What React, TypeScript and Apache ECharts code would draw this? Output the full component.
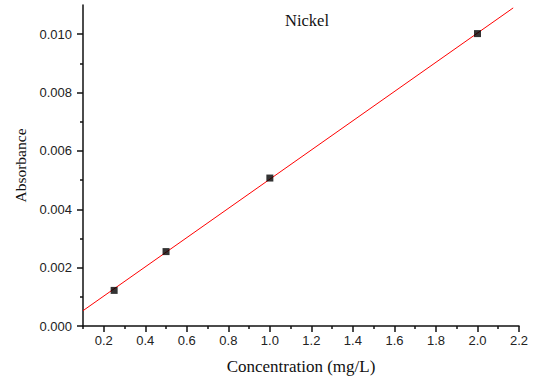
import React, { useEffect, useRef } from "react";
import * as echarts from "echarts";

const concentrations = [0.25, 0.5, 1.0, 2.0];
const absorbances = [0.00122, 0.00255, 0.00507, 0.01002];
const fitX = [0.1, 2.172];
const fitY = [0.000525, 0.01090];
const xMajorTicks = [0.2, 0.4, 0.6, 0.8, 1.0, 1.2, 1.4, 1.6, 1.8, 2.0, 2.2];
const xMinorTicks = [0.1, 0.3, 0.5, 0.7, 0.9, 1.1, 1.3, 1.5, 1.7, 1.9, 2.1];
const yMajorTicks = [0, 0.002, 0.004, 0.006, 0.008, 0.01];
const yMinorTicks = [0.001, 0.003, 0.005, 0.007, 0.009];

export default function App() {
  const ref = useRef<HTMLDivElement>(null);
  useEffect(() => {
    if (!ref.current) return;
    const chart = echarts.init(ref.current, null, { renderer: "svg" });
    const lineColor = "#111";
    const labelStyle = {
      fontFamily: "Liberation Sans",
      fontSize: 13,
      color: "#222",
    };
    const common = { min: 0.1, max: 2.2, type: "value" as const };
    chart.setOption({
      animation: false,
      backgroundColor: "#fff",
      grid: { left: 83, right: 17, top: 5, bottom: 57 },
      xAxis: [
        {
          ...common,
          position: "bottom",
          axisLine: { show: true, lineStyle: { color: lineColor, width: 1.5 } },
          axisTick: { show: true, inside: false, length: 6, customValues: xMajorTicks, lineStyle: { color: lineColor, width: 1.5 } },
          axisLabel: { ...labelStyle, margin: 8, customValues: xMajorTicks, formatter: (v: number) => v.toFixed(1) },
          splitLine: { show: false },
          name: "Concentration (mg/L)",
          nameLocation: "middle",
          nameGap: 32,
          nameTextStyle: { fontFamily: "Liberation Serif", fontSize: 17, color: "#111" },
        },
        {
          ...common,
          position: "bottom",
          axisLine: { show: false },
          axisTick: { show: true, inside: false, length: 3, customValues: xMinorTicks, lineStyle: { color: lineColor, width: 1.5 } },
          axisLabel: { show: false },
          splitLine: { show: false },
        },
      ],
      yAxis: [
        {
          type: "value",
          min: 0,
          max: 0.011,
          axisLine: { show: true, lineStyle: { color: lineColor, width: 1.5 } },
          axisTick: { show: true, inside: false, length: 6, customValues: yMajorTicks, lineStyle: { color: lineColor, width: 1.5 } },
          axisLabel: { ...labelStyle, margin: 11, customValues: yMajorTicks, formatter: (v: number) => v.toFixed(3) },
          splitLine: { show: false },
          name: "Absorbance",
          nameLocation: "middle",
          nameGap: 54,
          nameTextStyle: { fontFamily: "Liberation Serif", fontSize: 15.5, color: "#111" },
        },
        {
          type: "value",
          min: 0,
          max: 0.011,
          position: "left",
          axisLine: { show: false },
          axisTick: { show: true, inside: false, length: 3, customValues: yMinorTicks, lineStyle: { color: lineColor, width: 1.5 } },
          axisLabel: { show: false },
          splitLine: { show: false },
        },
      ],
      graphic: [
        {
          type: "text",
          x: 307,
          y: 20,
          style: {
            text: "Nickel",
            fontFamily: "Liberation Serif",
            fontSize: 16.5,
            fill: "#111",
            align: "center",
            verticalAlign: "middle",
          },
        },
      ],
      series: [
        {
          type: "line",
          xAxisIndex: 0,
          yAxisIndex: 0,
          data: fitX.map((x, i) => [x, fitY[i]]),
          showSymbol: false,
          symbol: "none",
          lineStyle: { color: "#ff0000", width: 1 },
          z: 2,
        },
        {
          type: "scatter",
          xAxisIndex: 0,
          yAxisIndex: 0,
          data: concentrations.map((x, i) => [x, absorbances[i]]),
          symbol: "rect",
          symbolSize: 7,
          itemStyle: { color: "#000" },
          z: 3,
        },
      ],
    });
    return () => chart.dispose();
  }, []);
  return <div ref={ref} style={{ width: 536, height: 383, position: "fixed", left: 0, top: 0 }} />;
}
